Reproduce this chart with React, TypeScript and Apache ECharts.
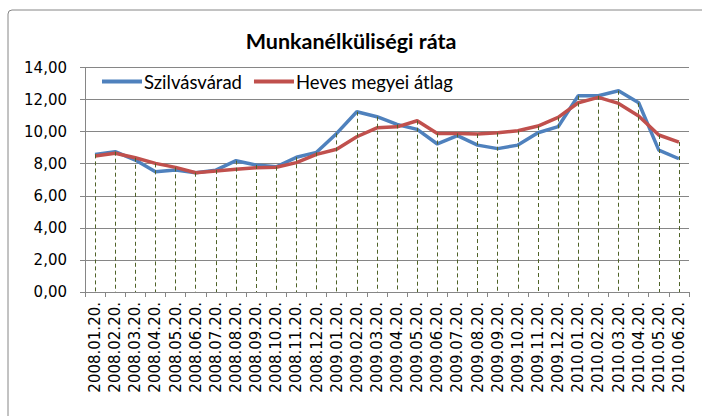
import React, { useEffect, useRef } from "react";
import * as echarts from "echarts";

const categories = [
  "2008.01.20.", "2008.02.20.", "2008.03.20.", "2008.04.20.", "2008.05.20.", "2008.06.20.",
  "2008.07.20.", "2008.08.20.", "2008.09.20.", "2008.10.20.", "2008.11.20.", "2008.12.20.",
  "2009.01.20.", "2009.02.20.", "2009.03.20.", "2009.04.20.", "2009.05.20.", "2009.06.20.",
  "2009.07.20.", "2009.08.20.", "2009.09.20.", "2009.10.20.", "2009.11.20.", "2009.12.20.",
  "2010.01.20.", "2010.02.20.", "2010.03.20.", "2010.04.20.", "2010.05.20.", "2010.06.20.",
];

const szilvasvarad = [
  8.58, 8.75, 8.23, 7.5, 7.61, 7.44, 7.6, 8.19, 7.92, 7.81, 8.4, 8.71,
  9.89, 11.24, 10.93, 10.45, 10.14, 9.23, 9.75, 9.16, 8.94, 9.16, 9.93, 10.31,
  12.24, 12.24, 12.55, 11.8, 8.85, 8.31,
];

const hevesAtlag = [
  8.48, 8.65, 8.37, 8.02, 7.77, 7.44, 7.54, 7.65, 7.75, 7.78, 8.07, 8.58,
  8.9, 9.68, 10.24, 10.3, 10.68, 9.89, 9.89, 9.85, 9.93, 10.06, 10.35, 10.89,
  11.8, 12.14, 11.76, 10.97, 9.79, 9.35,
];

const yTicks = { min: 0, max: 14, interval: 2 };

export default function App() {
  const ref = useRef<HTMLDivElement>(null);
  useEffect(() => {
    if (!ref.current) return;
    const chart = echarts.init(ref.current, undefined, { renderer: "svg" });
    const dropData = categories.map((c, i) => [
      { coord: [c, Math.max(szilvasvarad[i], hevesAtlag[i])] },
      { coord: [c, 0] },
    ]);
    chart.setOption({
      animation: false,
      backgroundColor: "#ffffff",
      graphic: [
        {
          type: "rect",
          shape: { x: 8, y: 10, width: 720, height: 440, r: 4 },
          style: { fill: "none", stroke: "#868686", lineWidth: 1 },
          silent: true,
          z: 0,
        },
      ],
      title: {
        text: "Munkanélküliségi ráta",
        left: "center",
        top: 25,
        textStyle: {
          fontFamily: "Lato",
          fontWeight: "bold",
          fontSize: 21.5,
          color: "#000000",
        },
      },
      legend: {
        left: 97,
        top: 67,
        itemWidth: 40,
        itemHeight: 4,
        itemGap: 12,
        icon: "rect",
        data: ["Szilvásvárad", "Heves megyei átlag"],
        textStyle: { fontFamily: "Lato", fontSize: 18.5, color: "#000000", padding: [0, 0, 0, -3] },
      },
      grid: { left: 85, right: 13, top: 67.5, bottom: 124 },
      xAxis: {
        type: "category",
        data: categories,
        boundaryGap: true,
        axisLine: { show: true, lineStyle: { color: "#868686", width: 1 } },
        axisTick: { show: true, length: 5, lineStyle: { color: "#868686" } },
        axisLabel: {
          rotate: 90,
          interval: 0,
          margin: 10,
          fontFamily: "DejaVu Sans",
          fontSize: 15,
          color: "#000000",
        },
        splitLine: { show: false },
      },
      yAxis: {
        type: "value",
        min: yTicks.min,
        max: yTicks.max,
        interval: yTicks.interval,
        axisLine: { show: true, lineStyle: { color: "#868686", width: 1 } },
        axisTick: { show: true, length: 5, lineStyle: { color: "#868686" } },
        axisLabel: {
          fontFamily: "DejaVu Sans",
          fontSize: 15,
          color: "#000000",
          margin: 18,
          formatter: (v: number) => v.toFixed(2).replace(".", ","),
        },
        splitLine: { show: true, lineStyle: { color: "#868686", width: 1 } },
      },
      series: [
        {
          name: "drop",
          type: "line",
          data: [],
          silent: true,
          z: 1,
          markLine: {
            silent: true,
            symbol: "none",
            label: { show: false },
            lineStyle: { color: "#4F6228", type: [4, 3], width: 1 },
            data: dropData,
          },
        },
        {
          name: "Szilvásvárad",
          type: "line",
          data: szilvasvarad,
          showSymbol: false,
          symbol: "none",
          z: 3,
          lineStyle: { color: "#4F81BD", width: 3.5 },
          itemStyle: { color: "#4F81BD" },
        },
        {
          name: "Heves megyei átlag",
          type: "line",
          data: hevesAtlag,
          showSymbol: false,
          symbol: "none",
          z: 4,
          lineStyle: { color: "#C0504D", width: 3.5 },
          itemStyle: { color: "#C0504D" },
        },
      ],
    });
    return () => chart.dispose();
  }, []);
  return (
    <div
      ref={ref}
      style={{ position: "absolute", left: 0, top: 0, width: 702, height: 416 }}
    />
  );
}
